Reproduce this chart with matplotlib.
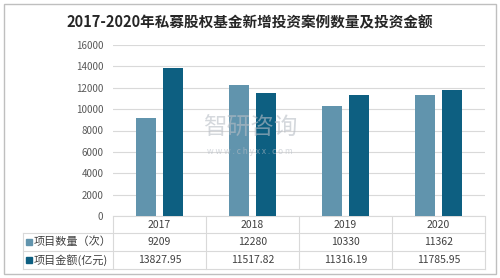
import numpy as np
import matplotlib.pyplot as plt
from matplotlib.patches import Rectangle
from matplotlib.lines import Line2D

plt.rcParams['font.family'] = ['Noto Sans CJK SC', 'DejaVu Sans']

years = ['2017', '2018', '2019', '2020']
count = [9209, 12280, 10330, 11362]
amount = [13827.95, 11517.82, 11316.19, 11785.95]
count_lbl = ['9209', '12280', '10330', '11362']
amount_lbl = ['13827.95', '11517.82', '11316.19', '11785.95']
series = ['项目数量（次）', '项目金额(亿元)']
c_light = '#6194ad'
c_dark = '#0d5f81'

W, H = 500, 278
fig = plt.figure(figsize=(5, 2.78), dpi=100)
ax = fig.add_axes([113 / W, 1 - 216 / H, 372 / W, 171 / H])

x = np.arange(len(years))
bw = 0.215
ax.bar(x - 0.145, count, bw, color=c_light, zorder=3)
ax.bar(x + 0.145, amount, bw, color=c_dark, zorder=3)

ax.set_xlim(-0.5, 3.5)
ax.set_ylim(0, 16000)
ax.set_yticks(range(0, 16001, 2000))
ax.tick_params(axis='y', length=0, labelsize=7, labelcolor='#595959', pad=7)
ax.set_xticks([])
ax.grid(axis='y', color='#d9d9d9', lw=0.8, zorder=0)
for s in ['top', 'right', 'left']:
    ax.spines[s].set_visible(False)
ax.spines['bottom'].set_color('#d9d9d9')

# table under the chart
def fy(py):
    return 1 - py / H

def fx(px):
    return px / W

lc = '#d9d9d9'
for py in [233, 251, 269]:
    fig.add_artist(Line2D([fx(23), fx(485)], [fy(py), fy(py)], color=lc, lw=0.8))
for px in [113, 206, 299, 392, 485]:
    fig.add_artist(Line2D([fx(px), fx(px)], [fy(217), fy(269)], color=lc, lw=0.8))
fig.add_artist(Line2D([fx(23), fx(23)], [fy(233), fy(269)], color=lc, lw=0.8))

tc = '#404040'
for i, yr in enumerate(years):
    cx = fx(113 + 93 * i + 46.5)
    fig.text(cx, fy(225), yr, ha='center', va='center', fontsize=7.5, color=tc)
    fig.text(cx, fy(242), count_lbl[i], ha='center', va='center', fontsize=7.5, color=tc)
    fig.text(cx, fy(260), amount_lbl[i], ha='center', va='center', fontsize=7.5, color=tc)

for py, name, col in [(242, series[0], c_light), (260, series[1], c_dark)]:
    fig.add_artist(Rectangle((fx(26), fy(py) - 3 / H), 6 / W, 6 / H, color=col))
    fig.text(fx(34), fy(py), name, ha='left', va='center', fontsize=8, color=tc)

# title
fig.text(0.5, fy(22), '2017-2020年私募股权基金新增投资案例数量及投资金额',
         ha='center', va='center', fontsize=10.5, fontweight='bold', color='#262626')

# watermark
fig.text(fx(250), fy(128), '智研咨询', ha='center', va='center', fontsize=17,
         color='#b8bec6', alpha=0.6, zorder=10)
fig.text(fx(250), fy(151), 'w w w . c h y x x . c o m', ha='center', va='center',
         fontsize=6, color='#b8bec6', alpha=0.6, zorder=10)

# outer frame
fig.add_artist(Rectangle((fx(4), fy(274)), 492 / W, 270 / H, fill=False,
                         edgecolor='#bfbfbf', lw=1))

fig.savefig('out.png', dpi=100)
